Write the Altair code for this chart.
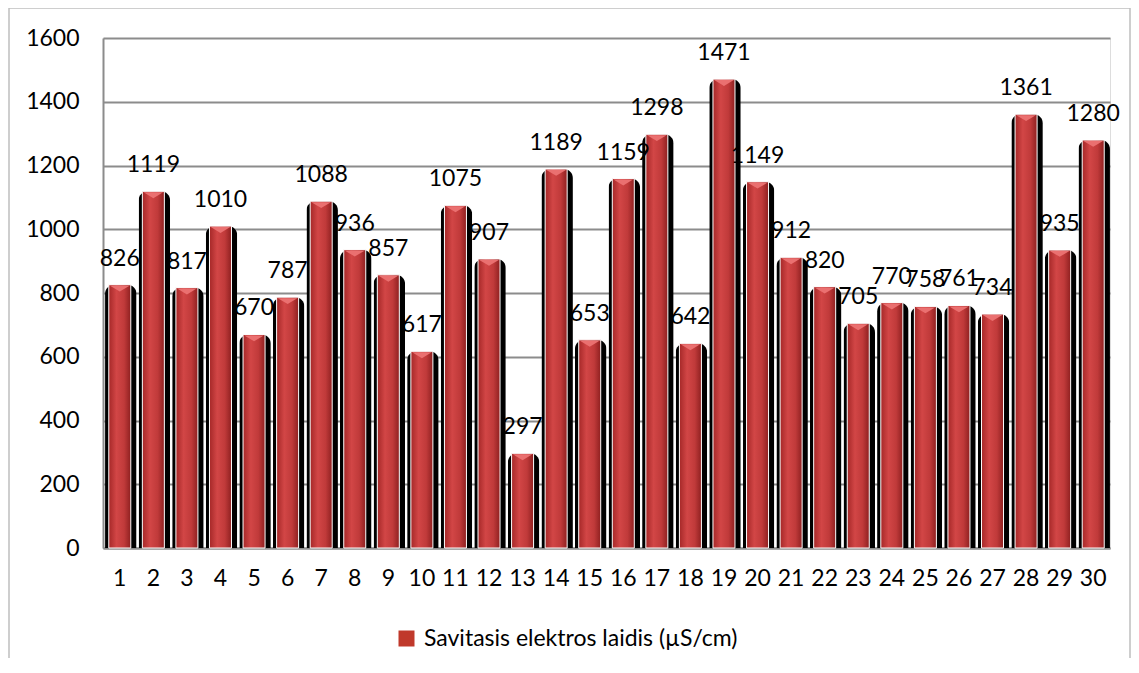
import altair as alt
import pandas as pd

samples = list(range(1, 31))
values = [826, 1119, 817, 1010, 670, 787, 1088, 936, 857, 617,
          1075, 907, 297, 1189, 653, 1159, 1298, 642, 1471, 1149,
          912, 820, 705, 770, 758, 761, 734, 1361, 935, 1280]
series_name = "Savitasis elektros laidis (µS/cm)"
y_ticks = [0, 200, 400, 600, 800, 1000, 1200, 1400, 1600]

df = pd.DataFrame({"n": samples, "v": values, "series": series_name})

FONT = "Lato"
FS = 23

x_enc = alt.X("n:O", scale=alt.Scale(paddingInner=0, paddingOuter=0),
              axis=alt.Axis(title=None, labelAngle=0, labelFontSize=FS, labelFont=FONT,
                            labelColor="#000", ticks=False, domain=True, domainColor="#8c8c8c",
                            domainWidth=2, labelPadding=19, grid=False))
y_enc = alt.Y("v:Q", scale=alt.Scale(domain=[0, 1600], nice=False),
              axis=alt.Axis(title=None, values=y_ticks, format="d", labelFontSize=FS,
                            labelFont=FONT, labelColor="#000", ticks=False, domain=True,
                            domainColor="#8c8c8c", domainWidth=2, labelPadding=24, grid=True,
                            gridColor="#8c8c8c", gridWidth=2))

base = alt.Chart(df)

shadow = base.mark_bar(color="black", width=31.5, xOffset=1,
                       cornerRadiusTopLeft=9, cornerRadiusTopRight=9).encode(x=x_enc, y=y_enc)

grad = alt.Gradient(gradient="linear", x1=0, x2=1, y1=0, y2=0,
                    stops=[alt.GradientStop(color="#a52828", offset=0),
                           alt.GradientStop(color="#d24646", offset=0.35),
                           alt.GradientStop(color="#c03a3a", offset=0.7),
                           alt.GradientStop(color="#8e2020", offset=1)])
red = base.mark_bar(color=grad, width=22, stroke="white", strokeWidth=1).encode(x="n:O", y="v:Q")

tri = base.mark_point(shape="M -1 0 L 1 0 L 0 0.6 Z", filled=True, color="#ea7070",
                      size=380, opacity=1, strokeWidth=0, yOffset=1).encode(x="n:O", y="v:Q")

labels = base.mark_text(font=FONT, fontSize=FS, color="#000", baseline="alphabetic",
                        dy=-19).encode(x="n:O", y="v:Q", text="v:Q")

legend_layer = base.mark_square(opacity=0, size=1).encode(
    x="n:O", y="v:Q",
    color=alt.Color("series:N", scale=alt.Scale(range=["#c0392b"]),
                    legend=alt.Legend(title=None, orient="none", legendX=292, legendY=589,
                                      symbolType="square", symbolSize=256, symbolOpacity=1,
                                      symbolStrokeWidth=0, labelFont=FONT, labelFontSize=FS,
                                      labelColor="#000", labelLimit=600, labelOffset=6)))

frame_df = pd.DataFrame({"k": [0]})
frame = alt.Chart(frame_df).mark_rect(fill=None, stroke="#bfbfbf", strokeWidth=1.5).encode(
    x=alt.value(-94), x2=alt.value(1027), y=alt.value(-30), y2=alt.value(650))

chart = alt.layer(frame, shadow, red, tri, labels, legend_layer).properties(
    width=1007, height=510,
    padding={"left": 95, "top": 30, "right": 21, "bottom": 110},
    autosize=alt.AutoSizeParams(type="none"),
).configure_view(stroke=None).configure(background="white")

chart.save("out.html", embed_options={"renderer": "svg", "actions": False})
